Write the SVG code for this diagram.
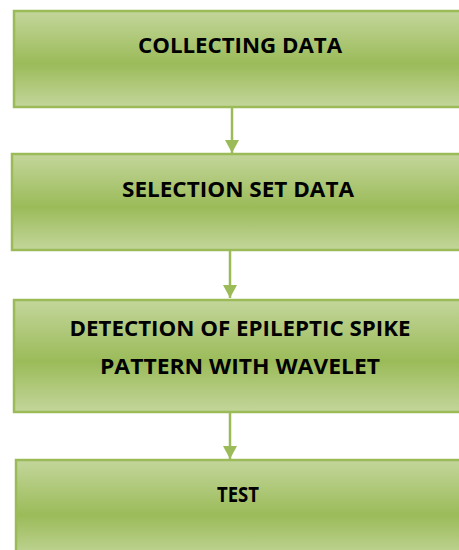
<svg xmlns="http://www.w3.org/2000/svg" width="459" height="550" viewBox="0 0 459 550">
<defs>
<linearGradient id="g" x1="0" y1="0" x2="0" y2="1">
<stop offset="0" stop-color="#c3d69b"/>
<stop offset="0.55" stop-color="#9bbb59"/>
<stop offset="1" stop-color="#c3d69b"/>
</linearGradient>
<marker id="ah" markerWidth="15" markerHeight="14" refX="14" refY="7.5" orient="auto" markerUnits="userSpaceOnUse" viewBox="0 0 14 15">
<path d="M0,0 L14,7.5 L0,15 Z" fill="#9bbb59"/>
</marker>
</defs>
<style>
.box{fill:url(#g);stroke:#9bbb59;stroke-width:2.5}
.lbl{font-family:"Open Sans","Liberation Sans",sans-serif;font-weight:bold;font-size:22px;fill:#000;text-anchor:middle}
.conn{stroke:#9bbb59;stroke-width:2.5;fill:none}
</style>
<rect width="459" height="550" fill="#fff"/>
<g id="n1">
<rect class="box" x="14" y="11" width="460" height="96"/>
<text class="lbl" x="240" y="52.5" textLength="204" lengthAdjust="spacingAndGlyphs">COLLECTING DATA</text>
</g>
<g id="n2">
<rect class="box" x="12" y="154" width="462" height="96"/>
<text class="lbl" x="238" y="197" textLength="232" lengthAdjust="spacingAndGlyphs">SELECTION SET DATA</text>
</g>
<g id="n3">
<rect class="box" x="14" y="300" width="460" height="112"/>
<text class="lbl" x="240" y="335.5" textLength="341" lengthAdjust="spacingAndGlyphs">DETECTION OF EPILEPTIC SPIKE</text>
<text class="lbl" x="240" y="373.5" textLength="280" lengthAdjust="spacingAndGlyphs">PATTERN WITH WAVELET</text>
</g>
<g id="n4">
<rect class="box" x="16" y="460" width="460" height="100"/>
<text class="lbl" x="238" y="501.5" textLength="42" lengthAdjust="spacingAndGlyphs">TEST</text>
</g>
<g id="connectors">
<line class="conn" x1="232" y1="108" x2="232" y2="153" marker-end="url(#ah)"/>
<line class="conn" x1="230" y1="251" x2="230" y2="298" marker-end="url(#ah)"/>
<line class="conn" x1="230" y1="413" x2="230" y2="459" marker-end="url(#ah)"/>
</g>
</svg>
